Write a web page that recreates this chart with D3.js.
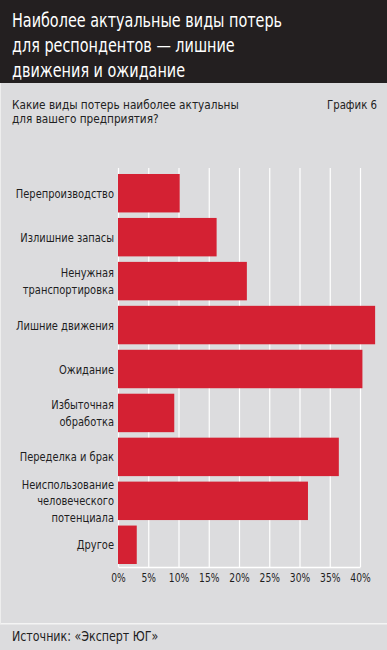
<!DOCTYPE html>
<html>
<head>
<meta charset="utf-8">
<script src="https://cdn.jsdelivr.net/npm/d3@7"></script>
<style>
body { margin: 0; background: #dcdcde; }
svg text { font-family: "DejaVu Sans Condensed", "DejaVu Sans", sans-serif; }
</style>
</head>
<body>
<div id="chart"></div>
<script>
var categories = ["Перепроизводство", "Излишние запасы", "Ненужная\nтранспортировка", "Лишние движения", "Ожидание",
	"Избыточная\nобработка", "Переделка и брак", "Неиспользование\nчеловеческого\nпотенциала", "Другое"];
var values = [10.2, 16.3, 21.3, 42.5, 40.4, 9.3, 36.5, 31.4, 3.1];
var ticks = [0, 5, 10, 15, 20, 25, 30, 35, 40];

var titleLines = ["Наиболее актуальные виды потерь", "для респондентов — лишние", "движения и ожидание"];
var questionLines = ["Какие виды потерь наиболее актуальны", "для вашего предприятия?"];
var chartNo = "График 6";
var source = "Источник: «Эксперт ЮГ»";

// narrow the font a bit, the original uses a condensed face
var place = function(sel, x, y, sx){
	return sel.attr("transform", "translate(" + x + "," + y + ") scale(" + sx + ",1)");
};

var draw = function(){
	var svg = d3.select("#chart").append("svg").attr("width", 387).attr("height", 650);

	svg.append("rect").attr("x", 0).attr("y", 0).attr("width", 387).attr("height", 650).attr("fill", "#dcdcde");
	svg.append("rect").attr("x", 0).attr("y", 0).attr("width", 387).attr("height", 83).attr("fill", "#231f20");
	svg.append("rect").attr("x", 0).attr("y", 623).attr("width", 387).attr("height", 1.5).attr("fill", "#f4f4f4");
	svg.append("rect").attr("x", 0).attr("y", 83).attr("width", 1).attr("height", 541).attr("fill", "#eeeeee");

	// header
	svg.append("g").selectAll(".title").data(titleLines).enter()
		.append("text").attr("class", "title")
		.each(function(d, i){ place(d3.select(this), 12, 27 + i * 25, 0.8); })
		.attr("fill", "#ffffff").attr("font-size", 20)
		.text(function(d){ return d; });

	svg.append("g").selectAll(".question").data(questionLines).enter()
		.append("text").attr("class", "question")
		.each(function(d, i){ place(d3.select(this), 12, 108.5 + i * 14, 0.9); })
		.attr("fill", "#222").attr("font-size", 13)
		.text(function(d){ return d; });

	place(svg.append("text"), 377, 108.5, 0.87).attr("text-anchor", "end")
		.attr("fill", "#222").attr("font-size", 13).text(chartNo);

	var x = d3.scaleLinear().domain([0, 40]).range([118, 360]);
	var y = d3.scaleBand().domain(categories).range([168.5, 569.5]).padding(0.125);

	// grid
	var grid = d3.axisBottom(x).tickValues(ticks).tickSizeInner(-399).tickSizeOuter(0).tickFormat("");
	var gg = svg.append("g").attr("class", "grid").attr("transform", "translate(0,567)").call(grid);
	gg.select(".domain").attr("stroke", "#ffffff").attr("stroke-width", 1.5);
	gg.selectAll(".tick line").attr("stroke", "#ffffff").attr("stroke-width", 1.2);

	// bars
	svg.append("g").selectAll(".bar").data(values).enter()
		.append("rect").attr("class", "bar")
		.attr("x", x(0))
		.attr("y", function(d, i){ return y(categories[i]); })
		.attr("width", function(d){ return x(d) - x(0); })
		.attr("height", y.bandwidth())
		.attr("fill", "#d42133");

	// category labels
	var lab = svg.append("g").selectAll(".cat").data(categories).enter()
		.append("text").attr("class", "cat")
		.attr("text-anchor", "end")
		.attr("fill", "#1e1e1e").attr("font-size", 12.5)
		.each(function(d){
			var n = d.split("\n").length;
			var cy = y(d) + y.bandwidth() / 2 - (n - 1) * 16.5 / 2 + 4.5;
			place(d3.select(this), 114, cy, 0.88);
		});
	lab.selectAll("tspan").data(function(d){ return d.split("\n"); }).enter()
		.append("tspan").attr("x", 0).attr("dy", function(d, i){ return i ? 16.5 : 0; })
		.text(function(d){ return d; });

	// x axis labels
	var xAxis = d3.axisBottom(x).tickValues(ticks).tickSize(0).tickPadding(6)
		.tickFormat(function(d){ return d + "%"; });
	var ax = svg.append("g").attr("class", "x axis").attr("transform", "translate(0,567)").call(xAxis);
	ax.select(".domain").remove();
	ax.selectAll("text").attr("fill", "#1e1e1e").attr("font-size", 12)
		.attr("font-family", "'DejaVu Sans Condensed', 'DejaVu Sans', sans-serif")
		.attr("transform", "scale(0.85,1)");

	place(svg.append("text"), 12, 641, 0.88)
		.attr("fill", "#1e1e1e").attr("font-size", 14).text(source);
};

window.onload = function(){
	draw();
};
</script>
</body>
</html>
